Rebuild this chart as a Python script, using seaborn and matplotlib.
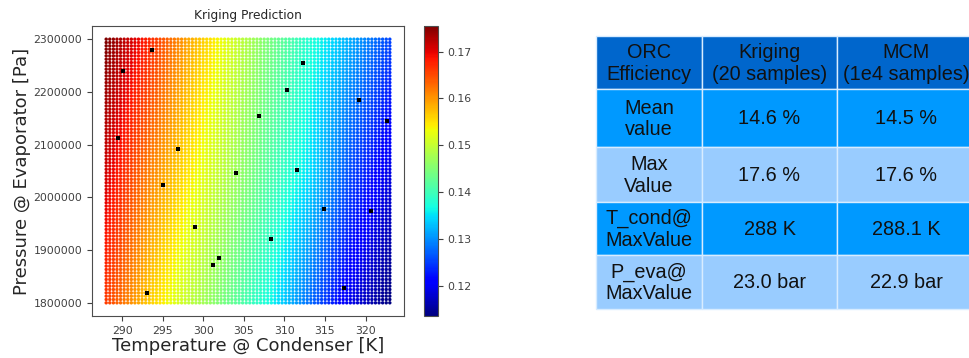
import numpy as np
import pandas as pd
import matplotlib
matplotlib.use("Agg")
import matplotlib.pyplot as plt
import seaborn as sns
from matplotlib.patches import Rectangle

# ---------------- data ----------------
# Kriging prediction read off the colour field at coarse nodes
T_nodes = [288, 293, 298, 303, 308, 313, 318, 323]
P_nodes = [1800000, 2050000, 2300000]
eff_P1800 = [0.1660, 0.1570, 0.1500, 0.1435, 0.1370, 0.1280, 0.1195, 0.1135]
eff_P2050 = [0.1710, 0.1620, 0.1550, 0.1485, 0.1415, 0.1350, 0.1260, 0.1190]
eff_P2300 = [0.1755, 0.1680, 0.1590, 0.1520, 0.1445, 0.1380, 0.1320, 0.1255]
grid_n = 80

# 20 kriging training samples
sample_T = [293.6, 290.1, 289.4, 296.9, 294.95, 299.0, 293.0, 301.2, 301.9, 304.0,
            306.9, 308.3, 310.3, 312.3, 311.5, 314.9, 317.4, 319.2, 320.7, 322.7]
sample_P = [2279200, 2240100, 2113400, 2092600, 2023800, 1943100, 1818300, 1871900,
            1885800, 2046500, 2153700, 1921700, 2202900, 2254000, 2052200, 1977800,
            1829000, 2185200, 1973400, 2144900]

# summary table
col_headers = ["ORC\nEfficiency", "Kriging\n(20 samples)", "MCM\n(1e4 samples)"]
row_labels = ["Mean\nvalue", "Max\nValue", "T_cond@\nMaxValue", "P_eva@\nMaxValue"]
kriging_vals = ["14.6 %", "17.6 %", "288 K", "23.0 bar"]
mcm_vals = ["14.5 %", "17.6 %", "288.1 K", "22.9 bar"]

# ---------------- build grid table ----------------
Tg = np.linspace(T_nodes[0], T_nodes[-1], grid_n)
Pg = np.linspace(P_nodes[0], P_nodes[-1], grid_n)
node_rows = np.array([eff_P1800, eff_P2050, eff_P2300])
rows_T = np.array([np.interp(Tg, T_nodes, r) for r in node_rows])  # (3, n)
field = np.array([[np.interp(p, P_nodes, rows_T[:, j]) for j in range(grid_n)] for p in Pg])
TT, PP = np.meshgrid(Tg, Pg)
df = pd.DataFrame({"T": TT.ravel(), "P": PP.ravel(), "eff": field.ravel()})
samples = pd.DataFrame({"T": sample_T, "P": sample_P})

# ---------------- figure ----------------
sns.set_style("ticks")
plt.rcParams["font.family"] = ["DejaVu Sans"]
fig = plt.figure(figsize=(9.7, 3.58), dpi=100)
W, H = 970, 358
ax = fig.add_axes([92 / W, 1 - 316 / H, (404 - 92) / W, (316 - 26) / H])
cax = fig.add_axes([424 / W, 1 - 316 / H, 14 / W, (316 - 26) / H])

jet = matplotlib.colormaps["jet"]
vmin, vmax = df["eff"].min(), df["eff"].max()
norm = matplotlib.colors.Normalize(vmin=vmin, vmax=vmax)
sns.scatterplot(data=df, x="T", y="P", hue="eff", palette=jet, hue_norm=norm,
                s=6, linewidth=0, marker="o", legend=False, ax=ax)
sns.scatterplot(data=samples, x="T", y="P", color="black", marker="s", s=8,
                linewidth=0, legend=False, ax=ax)

ax.set_title("Kriging Prediction", fontsize=8.8, pad=5)
ax.set_xlabel("Temperature @ Condenser [K]", fontsize=13, labelpad=1)
ax.set_ylabel("Pressure @ Evaporator [Pa]", fontsize=13, labelpad=2)
ax.set_xticks([290, 295, 300, 305, 310, 315, 320])
ax.set_yticks([1800000, 1900000, 2000000, 2100000, 2200000, 2300000])
ax.ticklabel_format(style="plain", axis="y", useOffset=False)
ax.tick_params(labelsize=7.8, length=3.5, colors=".25")
for s in ax.spines.values():
    s.set_color(".3")
    s.set_linewidth(0.8)

sm = matplotlib.cm.ScalarMappable(norm=norm, cmap=jet)
cb = fig.colorbar(sm, cax=cax)
cb.set_ticks([0.12, 0.13, 0.14, 0.15, 0.16, 0.17])
cb.ax.tick_params(labelsize=7.8, length=3.5, colors=".25")
cb.outline.set_edgecolor(".3")
cb.outline.set_linewidth(0.8)

# ---------------- table ----------------
tx0, ty_top = 596, 36
col_w = [106, 135, 138]
row_h = [53, 58, 55, 53, 54]
tot_w, tot_h = sum(col_w), sum(row_h)
tax = fig.add_axes([tx0 / W, 1 - (ty_top + tot_h) / H, tot_w / W, tot_h / H])
tax.set_xlim(0, tot_w)
tax.set_ylim(tot_h, 0)
tax.axis("off")

fills = ["#0066cc", "#0099ff", "#99ccff", "#0099ff", "#99ccff"]
table_rows = [col_headers] + [[row_labels[i], kriging_vals[i], mcm_vals[i]] for i in range(4)]
y = 0
for r, row in enumerate(table_rows):
    x = 0
    for c, txt in enumerate(row):
        tax.add_patch(Rectangle((x, y), col_w[c], row_h[r], facecolor=fills[r],
                                edgecolor="#d8ecff", linewidth=1.0, clip_on=False))
        tax.text(x + col_w[c] / 2, y + row_h[r] / 2 + 1, txt, ha="center", va="center",
                 fontsize=14.3, family=["Liberation Sans", "DejaVu Sans"],
                 color="#111111", linespacing=1.15)
        x += col_w[c]
    y += row_h[r]

fig.savefig("out.png", dpi=100)
